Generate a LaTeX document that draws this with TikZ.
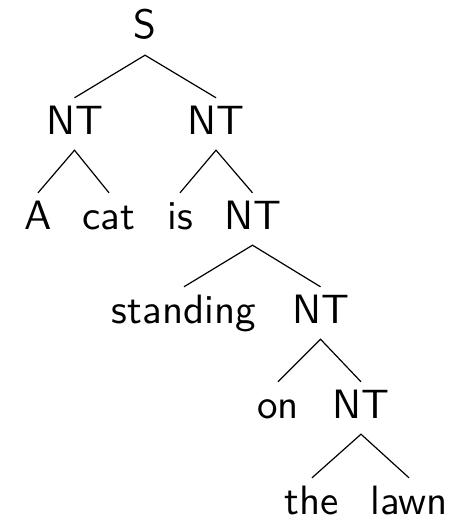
\documentclass[tikz,border=0pt]{standalone}
\usepackage{fontspec}
\newfontfamily\treefont{lmsans10-regular}[Extension=.otf]
\begin{document}
\begin{tikzpicture}[x=1pt,y=-1pt,
  word/.style={anchor=base,font=\treefont\fontsize{41}{49}\selectfont,
    text height=29pt,text depth=9pt,inner xsep=0pt,inner ysep=7pt},
  branch/.style={line width=1.2pt}]
\useasboundingbox (0,0) rectangle (454,516);
% labels, placed on their baselines
\node[word] (s)    at (145,39)    {S};
\node[word] (nta)  at (74.5,134)  {NT};
\node[word] (ntb)  at (216,134)   {NT};
\node[word] (a)    at (38,229)    {A};
\node[word] (cat)  at (109,229)   {cat};
\node[word] (is)   at (180,229)   {is};
\node[word] (ntc)  at (252.5,229) {NT};
\node[word] (stand) at (184,323)  {standing};
\node[word] (ntd)  at (320.5,323) {NT};
\node[word] (on)   at (278,418)   {on};
\node[word] (nte)  at (361,418)   {NT};
\node[word] (the)  at (312,514)   {the};
\node[word] (lawn) at (409,514)   {lawn};
% branches
\draw[branch] (nta.north) -- (s.south) -- (ntb.north);
\draw[branch] (a.north) -- (nta.south) -- (cat.north);
\draw[branch] (is.north) -- (ntb.south) -- (ntc.north);
\draw[branch] (stand.north) -- (ntc.south) -- (ntd.north);
\draw[branch] (on.north) -- (ntd.south) -- (nte.north);
\draw[branch] (the.north) -- (nte.south) -- (lawn.north);
\end{tikzpicture}
\end{document}
